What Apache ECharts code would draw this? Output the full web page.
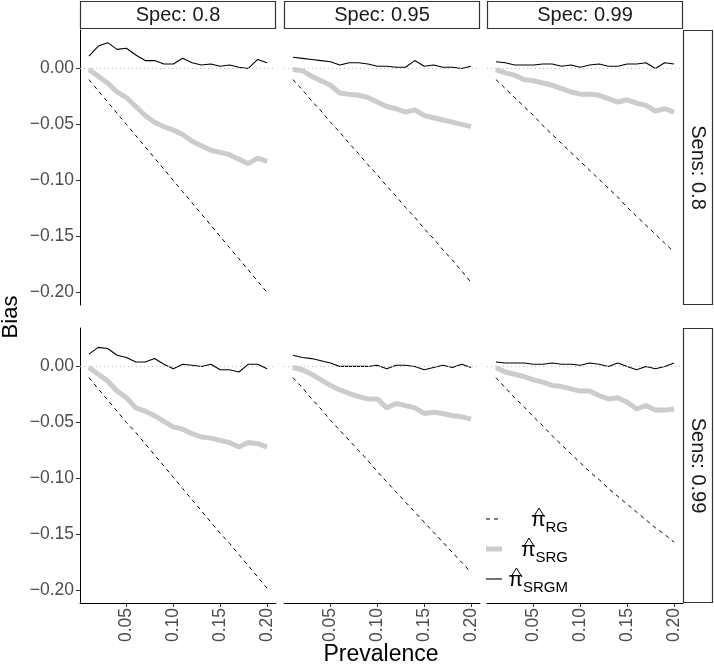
<!DOCTYPE html>
<html>
<head>
<meta charset="utf-8">
<script src="https://cdn.jsdelivr.net/npm/echarts@6/dist/echarts.min.js"></script>
<style>
html,body{margin:0;padding:0;background:#fff}
#chart{width:714px;height:667px}
</style>
</head>
<body>
<div id="chart"></div>
<script>
// x values shared by every panel
var prevalence = [0.01,0.02,0.03,0.04,0.05,0.06,0.07,0.08,0.09,0.10,0.11,0.12,0.13,0.14,0.15,0.16,0.17,0.18,0.19,0.20];
var xTicks = [0.05,0.10,0.15,0.20];
var yTicks = [-0.20,-0.15,-0.10,-0.05,0.00];
var specLabels = ['Spec: 0.8','Spec: 0.95','Spec: 0.99'];
var sensLabels = ['Sens: 0.8','Sens: 0.99'];

// Sens 0.8
var rg_se80_sp80 = [-0.010,-0.020,-0.030,-0.040,-0.050,-0.060,-0.070,-0.080,-0.090,-0.100,-0.110,-0.120,-0.130,-0.140,-0.150,-0.160,-0.170,-0.180,-0.190,-0.200];
var srg_se80_sp80 = [-0.001,-0.007,-0.013,-0.021,-0.026,-0.034,-0.042,-0.048,-0.052,-0.055,-0.059,-0.065,-0.069,-0.073,-0.075,-0.077,-0.081,-0.085,-0.080,-0.083];
var srgm_se80_sp80 = [0.011,0.020,0.023,0.017,0.018,0.012,0.007,0.007,0.004,0.004,0.009,0.005,0.003,0.004,0.002,0.003,0.001,0.000,0.008,0.005];

var rg_se80_sp95 = [-0.010,-0.019,-0.029,-0.038,-0.048,-0.057,-0.067,-0.076,-0.086,-0.095,-0.105,-0.114,-0.124,-0.133,-0.143,-0.152,-0.162,-0.171,-0.181,-0.191];
var srg_se80_sp95 = [-0.001,-0.002,-0.007,-0.011,-0.015,-0.022,-0.023,-0.024,-0.026,-0.030,-0.034,-0.036,-0.039,-0.037,-0.042,-0.044,-0.046,-0.048,-0.050,-0.052];
var srgm_se80_sp95 = [0.010,0.009,0.008,0.007,0.006,0.003,0.005,0.005,0.004,0.002,0.002,0.001,0.001,0.007,0.002,0.003,0.001,0.001,0.000,0.002];

var rg_se80_sp99 = [-0.010,-0.018,-0.026,-0.034,-0.042,-0.051,-0.059,-0.067,-0.075,-0.083,-0.091,-0.099,-0.107,-0.115,-0.124,-0.132,-0.140,-0.148,-0.156,-0.164];
var srg_se80_sp99 = [-0.001,-0.004,-0.006,-0.010,-0.011,-0.013,-0.015,-0.018,-0.021,-0.023,-0.023,-0.024,-0.027,-0.030,-0.028,-0.031,-0.033,-0.038,-0.036,-0.039];
var srgm_se80_sp99 = [0.006,0.005,0.003,0.003,0.003,0.004,0.004,0.002,0.003,0.001,0.003,0.004,0.002,0.002,0.004,0.004,0.005,0.000,0.005,0.004];

// Sens 0.99
var rg_se99_sp80 = [-0.010,-0.020,-0.030,-0.040,-0.050,-0.059,-0.069,-0.079,-0.089,-0.099,-0.109,-0.119,-0.129,-0.139,-0.149,-0.158,-0.168,-0.178,-0.188,-0.198];
var srg_se99_sp80 = [-0.001,-0.007,-0.013,-0.022,-0.028,-0.037,-0.040,-0.044,-0.049,-0.054,-0.056,-0.060,-0.063,-0.064,-0.066,-0.068,-0.072,-0.068,-0.069,-0.072];
var srgm_se99_sp80 = [0.011,0.017,0.016,0.010,0.008,0.004,0.004,0.007,0.002,-0.002,0.002,0.001,0.000,0.002,-0.003,-0.003,-0.005,0.002,0.002,-0.002];

var rg_se99_sp95 = [-0.010,-0.019,-0.029,-0.038,-0.048,-0.057,-0.066,-0.075,-0.084,-0.094,-0.103,-0.112,-0.121,-0.130,-0.139,-0.148,-0.157,-0.166,-0.175,-0.184];
var srg_se99_sp95 = [-0.001,-0.003,-0.007,-0.012,-0.017,-0.021,-0.024,-0.027,-0.029,-0.029,-0.037,-0.033,-0.035,-0.037,-0.042,-0.041,-0.042,-0.044,-0.045,-0.047];
var srgm_se99_sp95 = [0.010,0.008,0.007,0.005,0.003,0.000,0.000,0.000,0.000,0.001,-0.002,0.001,0.001,0.000,-0.003,-0.001,0.001,-0.001,0.002,-0.001];

var rg_se99_sp99 = [-0.010,-0.019,-0.028,-0.036,-0.045,-0.053,-0.062,-0.070,-0.078,-0.086,-0.094,-0.101,-0.109,-0.116,-0.123,-0.130,-0.137,-0.144,-0.150,-0.157];
var srg_se99_sp99 = [-0.001,-0.005,-0.007,-0.009,-0.012,-0.014,-0.017,-0.018,-0.020,-0.022,-0.022,-0.026,-0.029,-0.028,-0.032,-0.038,-0.035,-0.039,-0.039,-0.038];
var srgm_se99_sp99 = [0.004,0.003,0.003,0.003,0.002,0.002,0.003,0.002,0.002,0.001,0.003,0.002,0.000,0.003,0.000,-0.003,0.000,-0.002,0.000,0.003];

var panels = [
    {row:0, col:0, rg:rg_se80_sp80, srg:srg_se80_sp80, srgm:srgm_se80_sp80},
    {row:0, col:1, rg:rg_se80_sp95, srg:srg_se80_sp95, srgm:srgm_se80_sp95},
    {row:0, col:2, rg:rg_se80_sp99, srg:srg_se80_sp99, srgm:srgm_se80_sp99},
    {row:1, col:0, rg:rg_se99_sp80, srg:srg_se99_sp80, srgm:srgm_se99_sp80},
    {row:1, col:1, rg:rg_se99_sp95, srg:srg_se99_sp95, srgm:srgm_se99_sp95},
    {row:1, col:2, rg:rg_se99_sp99, srg:srg_se99_sp99, srgm:srgm_se99_sp99}
];

var FONT = '"Liberation Sans", Arial, Helvetica, sans-serif';
var colLeft = [80, 284, 487];
var rowTop = [30, 328];
var panelW = 196, panelH = 275;

function pairs(arr){
    return prevalence.map(function(p, k){ return [p, arr[k]]; });
}

var grids = [], xAxes = [], yAxes = [], series = [];
panels.forEach(function(pn, i){
    grids.push({left: colLeft[pn.col], top: rowTop[pn.row], width: panelW, height: panelH, containLabel: false});
    xAxes.push({
        type: 'value', gridIndex: i, min: 0.0005, max: 0.2095,
        show: pn.row === 1,
        splitLine: {show: false},
        axisLine: {show: true, onZero: false, lineStyle: {color: '#000', width: 1}},
        axisTick: {show: true, length: 4, customValues: xTicks, lineStyle: {color: '#333', width: 1}},
        axisLabel: {show: true, customValues: xTicks, rotate: 90, margin: 5, color: '#4d4d4d',
            fontSize: 17.5, fontFamily: FONT, formatter: function(v){ return v.toFixed(2); }}
    });
    yAxes.push({
        type: 'value', gridIndex: i, min: -0.2112, max: 0.0343,
        show: pn.col === 0,
        splitLine: {show: false},
        axisLine: {show: true, onZero: false, lineStyle: {color: '#000', width: 1}},
        axisTick: {show: true, length: 4, customValues: yTicks, lineStyle: {color: '#333', width: 1}},
        axisLabel: {show: true, customValues: yTicks, margin: 6, color: '#4d4d4d',
            fontSize: 17.5, fontFamily: FONT,
            formatter: function(v){ return (v < -1e-9 ? '\u2212' : '') + Math.abs(v).toFixed(2); }}
    });
    series.push({
        name: 'SRG', type: 'line', xAxisIndex: i, yAxisIndex: i, data: pairs(pn.srg),
        symbol: 'none', lineStyle: {color: '#cccccc', width: 5}, z: 2,
        markLine: {
            silent: true, symbol: ['none','none'], label: {show: false},
            lineStyle: {color: '#bdbdbd', type: [1,3], width: 1},
            data: [{yAxis: 0}]
        }
    });
    series.push({
        name: 'RG', type: 'line', xAxisIndex: i, yAxisIndex: i, data: pairs(pn.rg),
        symbol: 'none', lineStyle: {color: '#000', width: 1, type: [4,4]}, z: 3
    });
    series.push({
        name: 'SRGM', type: 'line', xAxisIndex: i, yAxisIndex: i, data: pairs(pn.srgm),
        symbol: 'none', lineStyle: {color: '#000', width: 1.1}, z: 4
    });
});

// facet strips, axis titles and the legend
var graphics = [];
specLabels.forEach(function(t, c){
    graphics.push({type: 'rect', shape: {x: colLeft[c] + 0.5, y: 1.5, width: panelW - 1, height: 27},
        style: {fill: '#fff', stroke: '#333', lineWidth: 1.2}});
    graphics.push({type: 'text', x: colLeft[c] + panelW / 2, y: 15,
        style: {text: t, fill: '#1a1a1a', font: '20px ' + FONT, align: 'center', verticalAlign: 'middle'}});
});
sensLabels.forEach(function(t, r){
    graphics.push({type: 'rect', shape: {x: 683.5, y: rowTop[r] + 0.5, width: 29, height: panelH - 1},
        style: {fill: '#fff', stroke: '#333', lineWidth: 1.2}});
    graphics.push({type: 'text', x: 698, y: rowTop[r] + panelH / 2, rotation: -Math.PI / 2,
        style: {text: t, fill: '#1a1a1a', font: '20px ' + FONT, align: 'center', verticalAlign: 'middle'}});
});
graphics.push({type: 'text', x: 11, y: 317, rotation: Math.PI / 2,
    style: {text: 'Bias', fill: '#000', font: '22px ' + FONT, align: 'center', verticalAlign: 'middle'}});
graphics.push({type: 'text', x: 381, y: 655,
    style: {text: 'Prevalence', fill: '#000', font: '23px ' + FONT, align: 'center', verticalAlign: 'middle'}});

var legendItems = [
    {sub: 'RG', y: 519, stroke: '#000', width: 1, dash: [4,4]},
    {sub: 'SRG', y: 549, stroke: '#cccccc', width: 5, dash: null},
    {sub: 'SRGM', y: 579, stroke: '#000', width: 1.1, dash: null}
];
var measure = document.createElement('canvas').getContext('2d');
measure.font = '15px ' + FONT;
legendItems.forEach(function(it){
    graphics.push({type: 'line', shape: {x1: 486, y1: it.y, x2: 502, y2: it.y},
        style: {stroke: it.stroke, lineWidth: it.width, lineDash: it.dash}});
    var subW = measure.measureText(it.sub).width;
    var piRight = 568 - subW;
    graphics.push({type: 'text', x: 568, y: it.y + 16,
        style: {text: it.sub, fill: '#000', font: '15px ' + FONT, align: 'right', verticalAlign: 'bottom'}});
    graphics.push({type: 'text', x: piRight, y: it.y + 12,
        style: {text: '\u03c0', fill: '#000', font: '21px ' + FONT, align: 'right', verticalAlign: 'bottom'}});
    graphics.push({type: 'polyline', shape: {points: [[piRight - 12, it.y - 2], [piRight - 6.5, it.y - 11], [piRight - 1, it.y - 2]]},
        style: {stroke: '#000', lineWidth: 1, fill: null}});
});

var chart = echarts.init(document.getElementById('chart'), null, {renderer: 'canvas'});
chart.setOption({
    animation: false,
    backgroundColor: '#fff',
    grid: grids,
    xAxis: xAxes,
    yAxis: yAxes,
    series: series,
    graphic: graphics
});
</script>
</body>
</html>
